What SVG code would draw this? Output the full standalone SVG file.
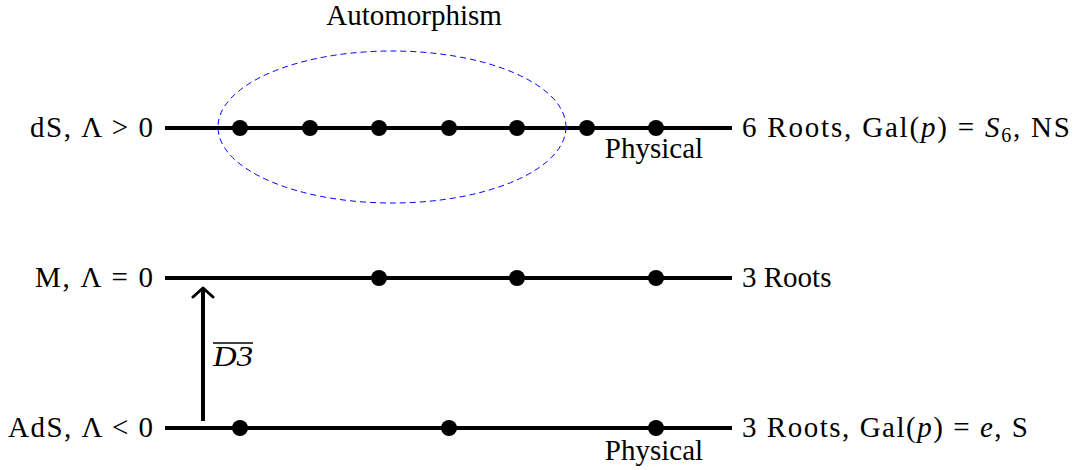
<svg xmlns="http://www.w3.org/2000/svg" width="1075" height="470" viewBox="0 0 1075 470">
<style>
text{font-family:"Liberation Serif","DejaVu Serif",serif;font-size:29px;fill:#000}
.it{font-style:italic}
.ln{stroke:#000;stroke-width:4;fill:none}
.dot{fill:#000}
</style>
<defs>
<marker id="ah" viewBox="0 0 24 24" refX="12" refY="12" markerWidth="24" markerHeight="24" markerUnits="userSpaceOnUse" orient="auto">
<path d="M3,2 L12,12 L3,22" fill="none" stroke="#000" stroke-width="3" stroke-linecap="round" stroke-linejoin="round"/>
</marker>
</defs>
<rect width="1075" height="470" fill="#fff"/>
<g id="connectors">
<line x1="203" y1="421" x2="203" y2="288" class="ln" stroke-width="3.5" marker-end="url(#ah)"/>
<text x="213" y="366" class="it" textLength="40" lengthAdjust="spacingAndGlyphs">D3</text>
<line x1="213" y1="343" x2="253" y2="343" stroke="#000" stroke-width="1.3"/>
</g>
<g id="dS">
<line x1="165" y1="128" x2="732" y2="128" class="ln"/>
<circle cx="240" cy="128" r="8" class="dot"/>
<circle cx="310" cy="128" r="8" class="dot"/>
<circle cx="379" cy="128" r="8" class="dot"/>
<circle cx="449" cy="128" r="8" class="dot"/>
<circle cx="517" cy="128" r="8" class="dot"/>
<circle cx="587" cy="128" r="8" class="dot"/>
<circle cx="656" cy="128" r="8" class="dot"/>
<text x="30" y="137" textLength="123" lengthAdjust="spacing">dS, Λ &gt; 0</text>
<text x="742" y="137" textLength="328" lengthAdjust="spacing">6 Roots, Gal(<tspan class="it">p</tspan>) = <tspan class="it">S</tspan><tspan font-size="20" dy="5">6</tspan><tspan dy="-5">, NS</tspan></text>
<text x="654" y="158" text-anchor="middle">Physical</text>
</g>
<g id="automorphism">
<ellipse cx="392" cy="127" rx="174" ry="76" fill="none" stroke="#0000ff" stroke-width="1" stroke-dasharray="6,4"/>
<text x="414" y="25" text-anchor="middle">Automorphism</text>
</g>
<g id="M">
<line x1="165" y1="278" x2="732" y2="278" class="ln"/>
<circle cx="379" cy="278" r="8" class="dot"/>
<circle cx="517" cy="278" r="8" class="dot"/>
<circle cx="656" cy="278" r="8" class="dot"/>
<text x="35" y="287" textLength="118" lengthAdjust="spacing">M, Λ = 0</text>
<text x="742" y="287">3 Roots</text>
</g>
<g id="AdS">
<line x1="165" y1="428" x2="732" y2="428" class="ln"/>
<circle cx="240" cy="428" r="8" class="dot"/>
<circle cx="449" cy="428" r="8" class="dot"/>
<circle cx="656" cy="428" r="8" class="dot"/>
<text x="8" y="437" textLength="145" lengthAdjust="spacing">AdS, Λ &lt; 0</text>
<text x="742" y="437" textLength="286" lengthAdjust="spacing">3 Roots, Gal(<tspan class="it">p</tspan>) = <tspan class="it">e</tspan>, S</text>
<text x="654" y="460" text-anchor="middle">Physical</text>
</g>
</svg>
